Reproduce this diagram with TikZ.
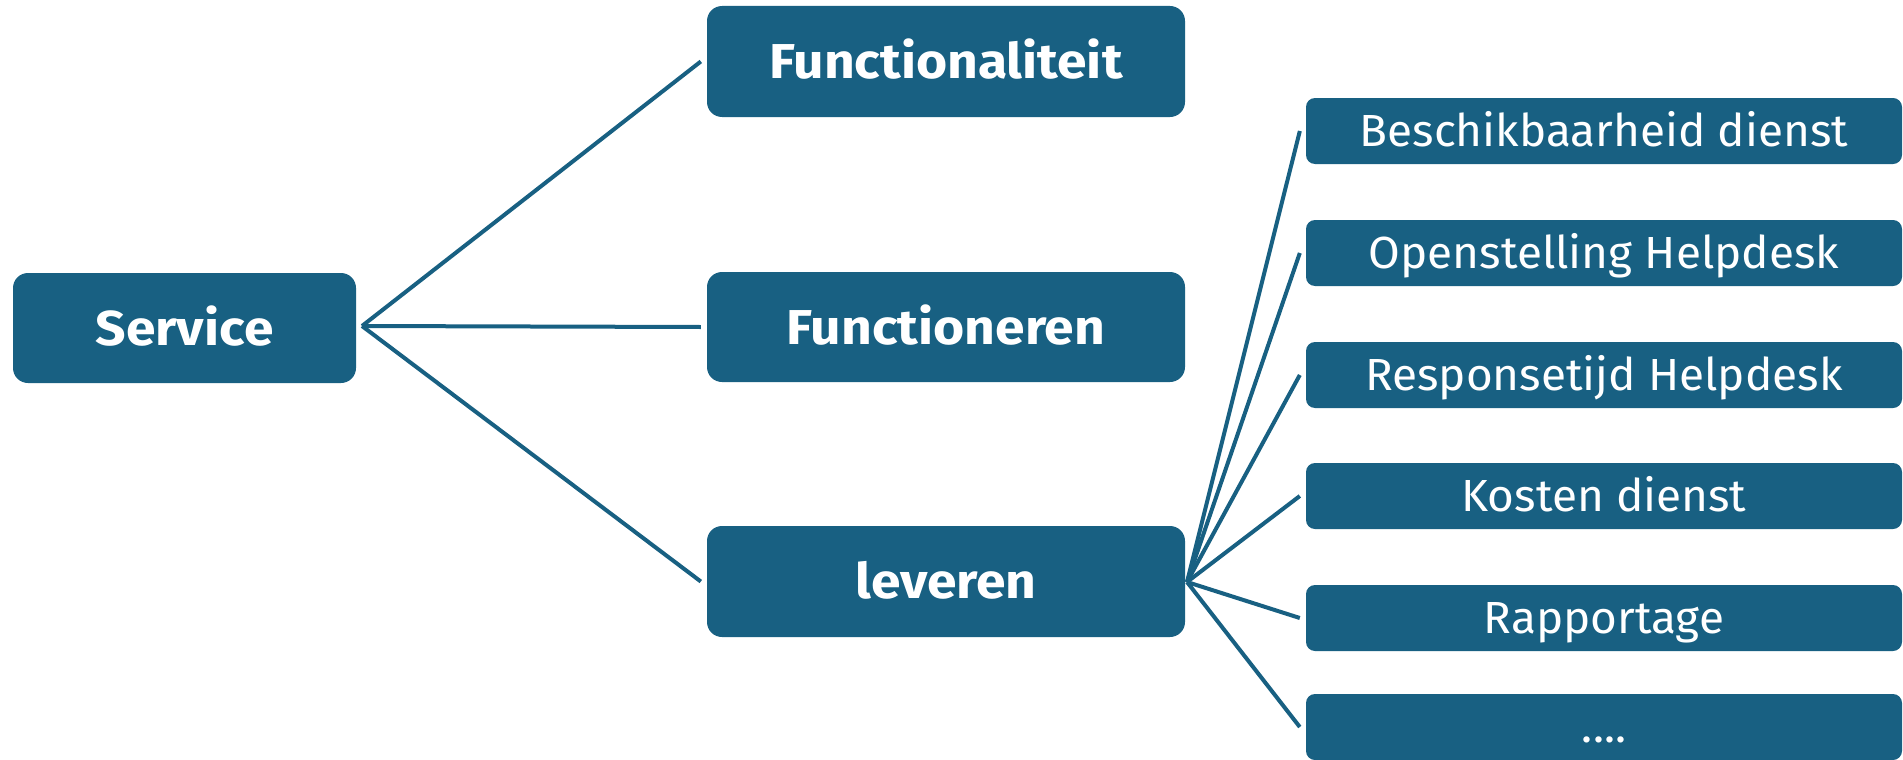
\documentclass[tikz,border=0pt]{standalone}
\usepackage{fontspec}
\setmainfont{Fira Sans}
\newfontfamily\boldfam{Fira Sans}[UprightFont=* Bold, FakeStretch=1.09]
\newfontfamily\narrowfam{Fira Sans}[FakeStretch=1.02]
\definecolor{teal}{RGB}{24,96,130}
\begin{document}
\begin{tikzpicture}[x=1pt,y=-1pt,
  mainbox/.style={fill=teal, rounded corners=15pt, minimum width=478pt, minimum height=111pt, inner sep=0pt, text height=34pt, text depth=0pt, text=white, font=\boldfam\fontsize{49}{55}\selectfont},
  subbox/.style={fill=teal, rounded corners=9pt, minimum width=596pt, minimum height=66pt, inner sep=0pt, text height=31pt, text depth=0pt, text=white, font=\narrowfam\fontsize{45}{50}\selectfont},
  link/.style={draw=teal, line width=4pt}]
\useasboundingbox (0,0) rectangle (1903,760);
\node[mainbox, minimum width=343pt, minimum height=110pt] (svc) at (184.5,328) {Service};
\node[mainbox] (fa) at (946,61.5) {Functionaliteit};
\node[mainbox, minimum height=110pt] (fo) at (946,327) {Functioneren};
\node[mainbox] (lv) at (946,581.5) {leveren};
\node[subbox] (s1) at (1604,131) {Beschikbaarheid dienst};
\node[subbox] (s2) at (1604,253) {Openstelling Helpdesk};
\node[subbox] (s3) at (1604,375) {Responsetijd Helpdesk};
\node[subbox] (s4) at (1604,496) {Kosten dienst};
\node[subbox] (s5) at (1604,618) {Rapportage};
\node[subbox] (s6) at (1604,727) {....};
\coordinate (hubA) at (362,326);
\coordinate (hubB) at (1187,582);
\draw[link] (hubA) -- ([xshift=-6pt]fa.west);
\draw[link] (hubA) -- ([xshift=-6pt]fo.west);
\draw[link] (hubA) -- ([xshift=-6pt]lv.west);
\foreach \s in {s1,s2,s3,s4,s5,s6}
  \draw[link] (hubB) -- ([xshift=-6pt]\s.west);
\end{tikzpicture}
\end{document}
